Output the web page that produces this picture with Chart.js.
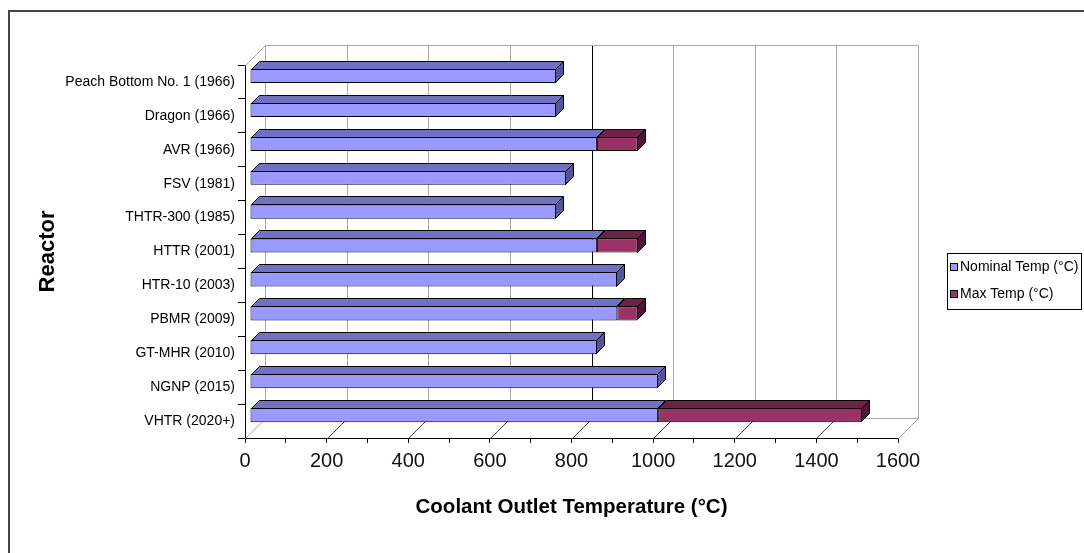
<!DOCTYPE html>
<html>
<head>
<meta charset="utf-8">
<script src="https://cdn.jsdelivr.net/npm/chart.js@4"></script>
<style>
  html, body { margin: 0; padding: 0; background: #ffffff; }
  #wrap { width: 1084px; height: 553px; position: relative; }
</style>
</head>
<body>
<div id="wrap"><canvas id="chart" width="1084" height="553"></canvas></div>
<script>
// Reactors and their coolant outlet temperatures (°C)
const reactors = [
  'Peach Bottom No. 1 (1966)', 'Dragon (1966)', 'AVR (1966)', 'FSV (1981)',
  'THTR-300 (1985)', 'HTTR (2001)', 'HTR-10 (2003)', 'PBMR (2009)',
  'GT-MHR (2010)', 'NGNP (2015)', 'VHTR (2020+)'
];
const nominalTemp = [750, 750, 850, 775, 750, 850, 900, 900, 850, 1000, 1000];
const maxTemp     = [null, null, 950, null, null, 950, null, 950, null, null, 1500];
const xTickValues = [0, 200, 400, 600, 800, 1000, 1200, 1400, 1600];
const seriesNames = ['Nominal Temp (°C)', 'Max Temp (°C)'];

// The max series is stacked on top of nominal, so it carries the difference
const maxExtra = maxTemp.map((m, i) => (m == null ? null : m - nominalTemp[i]));

const FONT = "'Liberation Sans', Arial, sans-serif";
const DEPTH = { x: 20, y: -20 };      // back wall offset
const BAR_SHIFT = { x: 5, y: -6 };    // bars sit a little behind the front plane
const BAR_DEPTH = { x: 8, y: -8 };    // bar extrusion
const faces = [
  { front: '#9999FF', top: '#7171C4', side: '#55559A' },
  { front: '#993366', top: '#70214A', side: '#4E1733' }
];

function line(ctx, x1, y1, x2, y2, color) {
  ctx.strokeStyle = color;
  ctx.beginPath();
  ctx.moveTo(x1, y1);
  ctx.lineTo(x2, y2);
  ctx.stroke();
}

function poly(ctx, pts, fill) {
  ctx.beginPath();
  ctx.moveTo(pts[0][0], pts[0][1]);
  for (let k = 1; k < pts.length; k++) ctx.lineTo(pts[k][0], pts[k][1]);
  ctx.closePath();
  ctx.fillStyle = fill;
  ctx.fill();
  ctx.strokeStyle = '#000';
  ctx.lineWidth = 1;
  ctx.stroke();
}

const box3d = {
  id: 'box3d',
  beforeDraw(chart) {
    const ctx = chart.ctx;
    ctx.save();
    ctx.fillStyle = '#fff';
    ctx.fillRect(0, 0, chart.width, chart.height);
    // outer frame
    ctx.lineWidth = 2;
    ctx.strokeStyle = '#444';
    ctx.strokeRect(9, 11, chart.width + 20, chart.height + 20);
    ctx.restore();
  },
  beforeDatasetsDraw(chart) {
    const ctx = chart.ctx;
    const xs = chart.scales.x;
    const a = chart.chartArea;
    const L = a.left + 0.5, R = Math.round(xs.getPixelForValue(1600)) + 0.5;
    const T = a.top + 0.5, B = a.bottom + 0.5;
    const dx = DEPTH.x, dy = DEPTH.y;
    const light = '#A8A8A8';
    ctx.save();
    ctx.lineWidth = 1;
    // back wall gridlines
    xTickValues.forEach(v => {
      const px = Math.round(xs.getPixelForValue(v)) + 0.5 + dx;
      line(ctx, px, T + dy, px, B + dy, v === 800 ? '#000' : light);
    });
    // wall and floor edges
    line(ctx, L + dx, T + dy, R + dx, T + dy, light);
    line(ctx, L, T, L + dx, T + dy, light);
    line(ctx, L + dx, B + dy, R + dx, B + dy, light);
    // floor lines at each labelled tick
    xTickValues.forEach(v => {
      const px = Math.round(xs.getPixelForValue(v)) + 0.5;
      const edge = (v === 0 || v === 1600);
      line(ctx, px, B, px + dx, B + dy, edge ? light : '#444');
    });
    ctx.restore();
    // bars are drawn slightly behind the front plane
    ctx.save();
    ctx.translate(BAR_SHIFT.x, BAR_SHIFT.y);
  },
  afterDatasetsDraw(chart) {
    const ctx = chart.ctx;
    const metas = [chart.getDatasetMeta(0), chart.getDatasetMeta(1)];
    const vals = [nominalTemp, maxExtra];
    const bx = BAR_DEPTH.x, by = BAR_DEPTH.y;
    reactors.forEach((_, i) => {
      let last = null;
      for (let d = 0; d < 2; d++) {
        if (vals[d][i] == null) continue;
        const p = metas[d].data[i].getProps(['x', 'y', 'base', 'height'], true);
        const left = Math.round(Math.min(p.x, p.base)) + 0.5;
        const right = Math.round(Math.max(p.x, p.base)) - 0.5;
        const top = Math.round(p.y - p.height / 2) + 0.5;
        poly(ctx, [[left, top], [right, top], [right + bx, top + by], [left + bx, top + by]], faces[d].top);
        last = { d, right, top, bottom: Math.round(p.y + p.height / 2) - 0.5 };
      }
      if (last) {
        const r = last.right;
        poly(ctx, [[r, last.top], [r + bx, last.top + by], [r + bx, last.bottom + by], [r, last.bottom]], faces[last.d].side);
      }
    });
    ctx.restore();
  },
  afterDraw(chart) {
    // legend box
    const ctx = chart.ctx;
    ctx.save();
    ctx.lineWidth = 1;
    ctx.strokeStyle = '#000';
    ctx.strokeRect(947.5, 253.5, 134, 56);
    ctx.font = '14px ' + FONT;
    ctx.textBaseline = 'middle';
    ctx.textAlign = 'left';
    const rows = [267, 294];
    chart.data.datasets.forEach((ds, d) => {
      ctx.fillStyle = ds.backgroundColor;
      ctx.fillRect(951, rows[d] - 3, 6, 6);
      ctx.strokeRect(950.5, rows[d] - 3.5, 7, 7);
      ctx.fillStyle = '#000';
      ctx.fillText(ds.label, 960, rows[d]);
    });
    ctx.restore();
  }
};

new Chart(document.getElementById('chart'), {
  type: 'bar',
  data: {
    labels: reactors,
    datasets: [
      { label: seriesNames[0], data: nominalTemp, backgroundColor: faces[0].front,
        borderColor: '#000', borderWidth: 1, borderSkipped: false, clip: false },
      { label: seriesNames[1], data: maxExtra, backgroundColor: faces[1].front,
        borderColor: '#000', borderWidth: 1, borderSkipped: false, clip: false }
    ]
  },
  options: {
    indexAxis: 'y',
    responsive: false,
    animation: false,
    devicePixelRatio: 1,
    layout: { padding: { top: 65, right: 186, bottom: 0, left: 0 } },
    datasets: { bar: { categoryPercentage: 1, barPercentage: 0.42 } },
    plugins: { legend: { display: false }, tooltip: { enabled: false } },
    scales: {
      x: {
        type: 'linear', stacked: true, min: 0, max: 1600,
        ticks: {
          stepSize: 100, autoSkip: false, maxRotation: 0,
          callback: v => (xTickValues.includes(v) ? String(v) : ''),
          font: { family: FONT, size: 20 }, color: '#111', padding: 6
        },
        grid: { drawOnChartArea: false, drawTicks: true, tickLength: 5, color: '#000' },
        border: { display: true, color: '#000', width: 1 },
        title: {
          display: true, text: 'Coolant Outlet Temperature (°C)', color: '#000',
          font: { family: FONT, size: 20.5, weight: 'bold' }, padding: { top: 0, bottom: 33 }
        },
        afterFit(scale) { scale.height = 115; }
      },
      y: {
        type: 'category', stacked: true, offset: true,
        ticks: { autoSkip: false, font: { family: FONT, size: 14 }, color: '#000', padding: 3 },
        grid: { offset: true, drawOnChartArea: false, drawTicks: true, tickLength: 7, color: '#000' },
        border: { display: true, color: '#000', width: 1 },
        title: {
          display: true, text: 'Reactor', color: '#000',
          font: { family: FONT, size: 22, weight: 'bold' }, padding: { top: 35, bottom: 0 }
        },
        afterFit(scale) { scale.width = 245; }
      }
    }
  },
  plugins: [box3d]
});
</script>
</body>
</html>
